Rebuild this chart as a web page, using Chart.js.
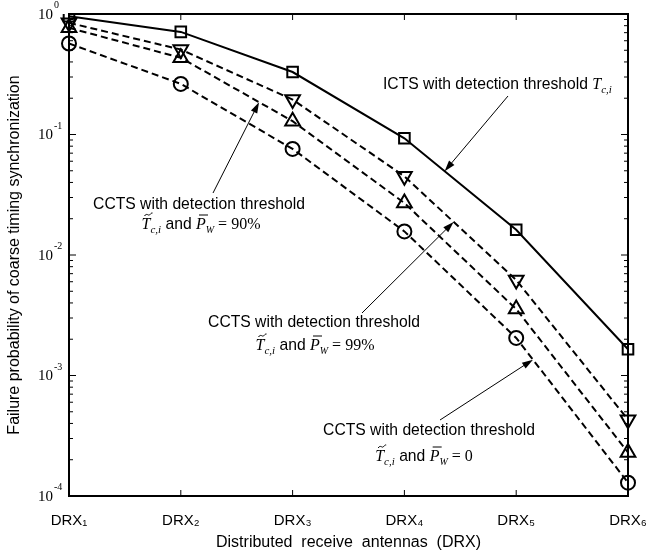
<!DOCTYPE html>
<html>
<head>
<meta charset="utf-8">
<script src="https://cdn.jsdelivr.net/npm/chart.js@4.4.1/dist/chart.umd.min.js"></script>
<style>
  html, body { margin: 0; padding: 0; background: #fff; }
  #wrap { width: 650px; height: 555px; }
</style>
</head>
<body>
<div id="wrap"><canvas id="myChart"></canvas></div>
<script>
// data
var categories = ['DRX₁', 'DRX₂', 'DRX₃', 'DRX₄', 'DRX₅', 'DRX₆'];
var ictsValues = [0.96, 0.71, 0.33, 0.093, 0.0162, 0.00165];
var ccts99Values = [0.845, 0.507, 0.195, 0.045, 0.0062, 0.00043];
var ccts90Values = [0.768, 0.433, 0.129, 0.027, 0.00356, 0.00023];
var ccts0Values = [0.569, 0.263, 0.0759, 0.0157, 0.00205, 0.000129];
var yDecades = [0, -1, -2, -3, -4];

var SANS = "'Liberation Sans', Arial, sans-serif";
var SERIF = "'Liberation Serif', 'Times New Roman', serif";
var TXT = '15.7px ' + SANS;

function segPoint(chart, ds, i, t) {
  var pts = chart.getDatasetMeta(ds).data;
  var a = pts[i], b = pts[i + 1];
  return { x: a.x + (b.x - a.x) * t, y: a.y + (b.y - a.y) * t };
}

function arrow(ctx, x0, y0, x1, y1) {
  var ang = Math.atan2(y1 - y0, x1 - x0);
  var len = 11, w = 3.5;
  var c = Math.cos(ang), s = Math.sin(ang);
  ctx.beginPath();
  ctx.moveTo(x0, y0);
  ctx.lineTo(x1 - c * len * 0.8, y1 - s * len * 0.8);
  ctx.stroke();
  ctx.beginPath();
  ctx.moveTo(x1, y1);
  ctx.lineTo(x1 - len * c + w * s, y1 - len * s - w * c);
  ctx.lineTo(x1 - len * c - w * s, y1 - len * s + w * c);
  ctx.closePath();
  ctx.fill();
}

function mathParts(rest) {
  return [
    { t: 'T', f: 'italic 16px ' + SERIF, deco: 'tilde' },
    { t: 'c,i', f: 'italic 11px ' + SERIF, dy: 4 },
    { t: ' and ', f: TXT },
    { t: 'P', f: 'italic 16px ' + SERIF, deco: 'bar' },
    { t: 'W', f: 'italic 10px ' + SERIF, dy: 4 },
    { t: ' = ' + rest, f: '16px ' + SERIF }
  ];
}

function drawParts(ctx, parts, x, y, align) {
  var total = 0;
  parts.forEach(function (p) { ctx.font = p.f; p.w = ctx.measureText(p.t).width; total += p.w; });
  var cx = align === 'center' ? x - total / 2 : x;
  ctx.textAlign = 'left';
  ctx.textBaseline = 'alphabetic';
  parts.forEach(function (p) {
    ctx.font = p.f;
    ctx.fillText(p.t, cx, y + (p.dy || 0));
    if (p.deco === 'bar') {
      ctx.beginPath(); ctx.moveTo(cx + 3, y - 14); ctx.lineTo(cx + 12, y - 14); ctx.stroke();
    }
    if (p.deco === 'tilde') {
      ctx.beginPath();
      ctx.moveTo(cx + 3, y - 13);
      ctx.bezierCurveTo(cx + 5, y - 16.5, cx + 7, y - 13, cx + 8, y - 14);
      ctx.bezierCurveTo(cx + 9, y - 15, cx + 10, y - 16.5, cx + 11, y - 16);
      ctx.stroke();
    }
    cx += p.w;
  });
}

var framePlugin = {
  id: 'frame',
  afterDatasetsDraw: function (chart) {
    var ctx = chart.ctx, a = chart.chartArea;
    var ys = chart.scales.y, xs = chart.scales.x;
    ctx.save();
    ctx.strokeStyle = '#000';
    ctx.fillStyle = '#000';
    ctx.lineWidth = 2;
    ctx.strokeRect(a.left, a.top, a.right - a.left, a.bottom - a.top);

    // inward ticks
    ctx.lineWidth = 1;
    ctx.beginPath();
    yDecades.forEach(function (d) {
      var y = ys.getPixelForValue(Math.pow(10, d));
      ctx.moveTo(a.left, y); ctx.lineTo(a.left + 7, y);
      ctx.moveTo(a.right, y); ctx.lineTo(a.right - 7, y);
      if (d > yDecades[yDecades.length - 1]) {
        for (var m = 2; m <= 9; m++) {
          var ym = ys.getPixelForValue(m * Math.pow(10, d - 1));
          ctx.moveTo(a.left, ym); ctx.lineTo(a.left + 4, ym);
          ctx.moveTo(a.right, ym); ctx.lineTo(a.right - 4, ym);
        }
      }
    });
    categories.forEach(function (c, i) {
      var x = xs.getPixelForValue(i);
      ctx.moveTo(x, a.bottom); ctx.lineTo(x, a.bottom - 6);
      ctx.moveTo(x, a.top); ctx.lineTo(x, a.top + 6);
    });
    ctx.stroke();

    // y tick labels 10^n
    yDecades.forEach(function (d) {
      var y = ys.getPixelForValue(Math.pow(10, d));
      ctx.font = '15px ' + SERIF;
      ctx.textAlign = 'right';
      ctx.textBaseline = 'middle';
      ctx.fillText('10', a.left - 16, y + 1);
      ctx.font = '10px ' + SERIF;
      ctx.textAlign = 'left';
      ctx.textBaseline = 'alphabetic';
      ctx.fillText(String(d), a.left - 15, y - 6);
    });

    // annotations
    ctx.lineWidth = 1;
    drawParts(ctx, [
      { t: 'ICTS with detection threshold ', f: TXT },
      { t: 'T', f: 'italic 16px ' + SERIF },
      { t: 'c,i', f: 'italic 11px ' + SERIF, dy: 4 }
    ], 383, 89, 'left');
    var p = segPoint(chart, 0, 3, 0.36);
    arrow(ctx, 508, 96, p.x, p.y);

    drawParts(ctx, [{ t: 'CCTS with detection threshold', f: TXT }], 199, 209, 'center');
    drawParts(ctx, mathParts('90%'), 201, 229, 'center');
    p = segPoint(chart, 2, 1, 0.7);
    arrow(ctx, 213, 193, p.x, p.y);

    drawParts(ctx, [{ t: 'CCTS with detection threshold', f: TXT }], 314, 327, 'center');
    drawParts(ctx, mathParts('99%'), 315, 350, 'center');
    p = segPoint(chart, 1, 3, 0.44);
    arrow(ctx, 362, 313, p.x, p.y);

    drawParts(ctx, [{ t: 'CCTS with detection threshold', f: TXT }], 429, 435, 'center');
    drawParts(ctx, mathParts('0'), 424, 461, 'center');
    p = segPoint(chart, 3, 4, 0.15);
    arrow(ctx, 440, 420, p.x, p.y);

    ctx.restore();
  }
};

function series(values, style, rotation, dash, radius) {
  return {
    data: values,
    borderColor: '#000',
    borderWidth: 2,
    borderDash: dash,
    pointStyle: style,
    pointRotation: rotation,
    pointRadius: radius,
    pointBorderWidth: 2,
    pointBorderColor: '#000',
    pointBackgroundColor: 'transparent',
    fill: false,
    tension: 0
  };
}

var ctx = document.getElementById('myChart').getContext('2d');
var myChart = new Chart(ctx, {
  type: 'line',
  data: {
    labels: categories,
    datasets: [
      series(ictsValues, 'rect', 0, [], 7.5),
      series(ccts99Values, 'triangle', 180, [7, 4], 8.5),
      series(ccts90Values, 'triangle', 0, [7, 4], 8.5),
      series(ccts0Values, 'circle', 0, [7, 4], 7)
    ]
  },
  options: {
    responsive: true,
    maintainAspectRatio: false,
    animation: false,
    events: [],
    layout: { padding: { top: 14, right: 22, left: 0, bottom: 0 } },
    plugins: {
      legend: { display: false },
      tooltip: { enabled: false }
    },
    scales: {
      x: {
        type: 'category',
        offset: false,
        grid: { display: false, drawTicks: false },
        border: { display: false },
        ticks: { color: '#000', font: { family: SANS, size: 15 }, padding: 16, maxRotation: 0 },
        title: {
          display: true,
          text: 'Distributed  receive  antennas  (DRX)',
          color: '#000',
          font: { family: SANS, size: 16 },
          padding: { top: 0, bottom: 3 }
        },
        afterFit: function (scale) {
          scale.height = 59;
          scale.paddingLeft = 0;
          scale.paddingRight = 0;
        }
      },
      y: {
        type: 'logarithmic',
        min: 1e-4,
        max: 1,
        grid: { display: false, drawTicks: false },
        border: { display: false },
        ticks: { display: false },
        title: {
          display: true,
          text: 'Failure probability of coarse timing synchronization',
          color: '#000',
          font: { family: SANS, size: 16 },
          padding: { top: 5, bottom: 0 }
        },
        afterFit: function (scale) { scale.width = 69; }
      }
    }
  },
  plugins: [framePlugin]
});
</script>
</body>
</html>
